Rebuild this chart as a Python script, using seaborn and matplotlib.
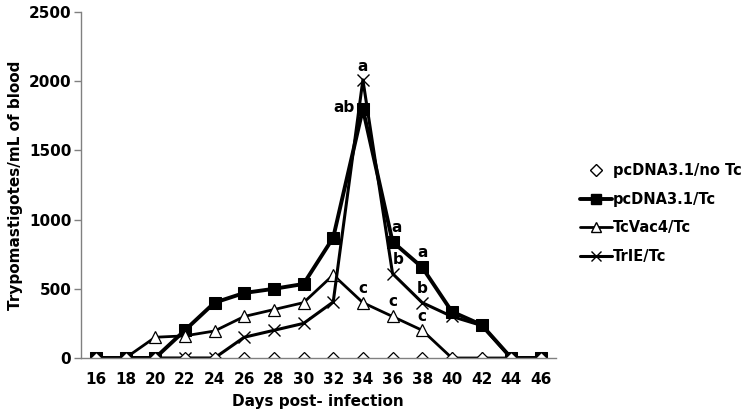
import numpy as np
import pandas as pd
import matplotlib
matplotlib.use('Agg')
import matplotlib.pyplot as plt
from matplotlib.lines import Line2D
import seaborn as sns

sns.set_theme(style='white')
plt.rcParams['font.family'] = ['DejaVu Sans']
plt.rcParams['font.weight'] = 'bold'
plt.rcParams['text.color'] = 'black'
plt.rcParams['axes.labelcolor'] = 'black'

days = [16, 18, 20, 22, 24, 26, 28, 30, 32, 34, 36, 38, 40, 42, 44, 46]
noTc = [0] * 16
pcTc = [0, 0, 0, 200, 400, 470, 500, 535, 870, 1800, 840, 655, 335, 240, 0, 0]
vac4 = [0, 0, 150, 160, 195, 300, 350, 400, 600, 400, 300, 200, 0, 0, 0, 0]
trie = [0, 0, 0, 0, 0, 150, 200, 250, 405, 2010, 610, 400, 300, 235, 0, 0]

# significance letters: (day, value, letter)
letters = [(34, 2110, 'a'), (34, 1810, 'ab'), (36.3, 940, 'a'), (36.4, 710, 'b'),
           (38, 760, 'a'), (38, 500, 'b'), (34, 500, 'c'), (36, 405, 'c'), (38, 300, 'c')]

df = pd.DataFrame({'day': days, 'noTc': noTc, 'pcTc': pcTc, 'vac4': vac4, 'trie': trie})

fig = plt.figure(figsize=(7.5, 4.17), dpi=100)
ax = fig.add_axes([0.108, 0.1415, 0.633, 0.8295])

sns.lineplot(data=df, x='day', y='pcTc', ax=ax, color='black', lw=2.8, marker='s',
             markersize=8, markerfacecolor='black', markeredgecolor='black')
sns.lineplot(data=df, x='day', y='vac4', ax=ax, color='black', lw=2.0, marker='^',
             markersize=8.5, markerfacecolor='white', markeredgecolor='black', markeredgewidth=0.9)
sns.lineplot(data=df, x='day', y='trie', ax=ax, color='black', lw=2.2, marker='x',
             markersize=8, markeredgecolor='black', markeredgewidth=1.0)
sns.lineplot(data=df, x='day', y='noTc', ax=ax, color='black', linestyle='none', marker='D',
             markersize=6, markerfacecolor='white', markeredgecolor='black', markeredgewidth=0.9)

for d, v, t in letters:
    ha = 'right' if t == 'ab' else 'center'
    xoff = -0.55 if t == 'ab' else 0
    ax.text(d + xoff, v, t, ha=ha, va='center', fontsize=11, fontweight='bold', color='black')

ax.set_xlim(15, 47)
ax.set_ylim(0, 2500)
ax.set_xticks(days)
ax.set_yticks([0, 500, 1000, 1500, 2000, 2500])
ax.tick_params(axis='x', length=0, labelsize=11, pad=10, labelcolor='black')
ax.tick_params(axis='y', length=5, width=1, color='#808080', direction='out', left=True,
               labelsize=11, pad=2, labelcolor='black')
for s in ['top', 'right']:
    ax.spines[s].set_visible(False)
for s in ['left', 'bottom']:
    ax.spines[s].set_color('#808080')
    ax.spines[s].set_linewidth(1)
ax.set_xlabel('Days post- infection', fontsize=11, fontweight='bold', labelpad=5)
ax.set_ylabel('Trypomastigotes/mL of blood', fontsize=11, fontweight='bold', labelpad=4)

handles = [
    Line2D([], [], color='black', linestyle='none', marker='D', markersize=6,
           markerfacecolor='white', markeredgecolor='black'),
    Line2D([], [], color='black', lw=2.8, marker='s', markersize=7, markerfacecolor='black'),
    Line2D([], [], color='black', lw=2.0, marker='^', markersize=7, markerfacecolor='white'),
    Line2D([], [], color='black', lw=2.2, marker='x', markersize=7),
]
labels = ['pcDNA3.1/no Tc', 'pcDNA3.1/Tc', 'TcVac4/Tc', 'TrIE/Tc']
fig.legend(handles, labels, loc='upper left', bbox_to_anchor=(0.765, 0.622), frameon=False,
           prop={'size': 10.5, 'weight': 'bold'}, handlelength=2.2, handletextpad=0.1,
           labelspacing=0.92, borderaxespad=0)

fig.savefig('out.png', dpi=100)
